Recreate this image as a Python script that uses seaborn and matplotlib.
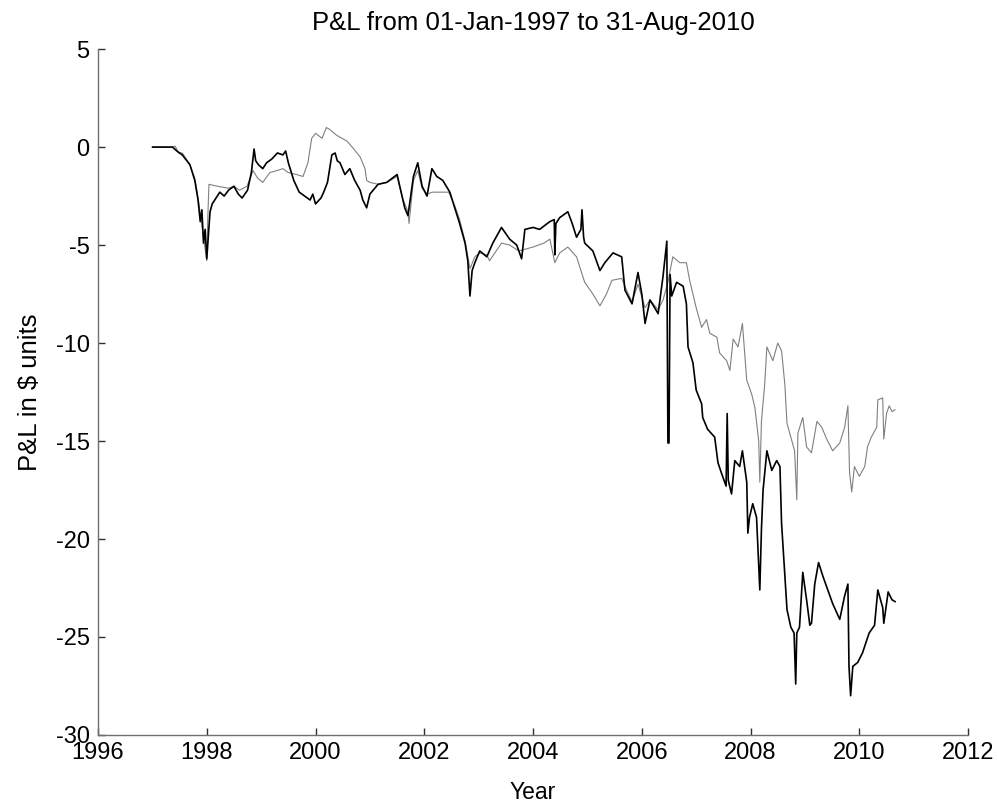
import numpy as np
import pandas as pd
import matplotlib
matplotlib.use("Agg")
import matplotlib.pyplot as plt
import seaborn as sns

# ---- data (decimal years, P&L in $ units) ----
black_dates = [1997.00, 1997.37, 1997.45, 1997.55, 1997.69, 1997.78, 1997.84, 1997.88, 1997.91, 1997.94,
               1997.97, 1998.00, 1998.03, 1998.06, 1998.10, 1998.17, 1998.24, 1998.32, 1998.40, 1998.50,
               1998.58, 1998.65, 1998.75, 1998.82, 1998.87, 1998.90, 1998.95, 1999.03, 1999.10, 1999.20,
               1999.30, 1999.40, 1999.45, 1999.50, 1999.60, 1999.70, 1999.80, 1999.90, 1999.95, 2000.00,
               2000.10, 2000.15, 2000.22, 2000.30, 2000.36, 2000.40, 2000.45, 2000.54, 2000.63, 2000.72,
               2000.82, 2000.87, 2000.94, 2001.00, 2001.15, 2001.31, 2001.50, 2001.55, 2001.64, 2001.70,
               2001.80, 2001.88, 2001.96, 2002.05, 2002.14, 2002.23, 2002.34, 2002.47, 2002.56, 2002.65,
               2002.75, 2002.80, 2002.84, 2002.88, 2002.93, 2003.02, 2003.15, 2003.26, 2003.42, 2003.57,
               2003.70, 2003.79, 2003.85, 2004.00, 2004.12, 2004.31, 2004.39, 2004.40, 2004.42, 2004.49,
               2004.64, 2004.72, 2004.80, 2004.88, 2004.90, 2004.93, 2004.95, 2005.10, 2005.23, 2005.32,
               2005.47, 2005.63, 2005.69, 2005.82, 2005.93, 2006.00, 2006.06, 2006.15, 2006.30, 2006.39,
               2006.46, 2006.48, 2006.50, 2006.52, 2006.55, 2006.64, 2006.76, 2006.82, 2006.85, 2006.94,
               2007.00, 2007.10, 2007.12, 2007.21, 2007.34, 2007.40, 2007.46, 2007.55, 2007.57, 2007.59,
               2007.65, 2007.71, 2007.80, 2007.85, 2007.93, 2007.95, 2007.98, 2008.04, 2008.11, 2008.17,
               2008.20, 2008.23, 2008.30, 2008.39, 2008.48, 2008.54, 2008.57, 2008.63, 2008.67, 2008.74,
               2008.80, 2008.83, 2008.85, 2008.90, 2008.96, 2009.03, 2009.09, 2009.12, 2009.18, 2009.25,
               2009.33, 2009.42, 2009.51, 2009.64, 2009.73, 2009.79, 2009.81, 2009.84, 2009.88, 2009.97,
               2010.06, 2010.18, 2010.28, 2010.34, 2010.43, 2010.45, 2010.53, 2010.60, 2010.66]
black_pnl = [0.0, 0.0, -0.2, -0.4, -0.9, -1.7, -2.7, -3.8, -3.2, -4.9,
             -4.2, -5.7, -4.5, -3.3, -2.9, -2.6, -2.3, -2.5, -2.2, -2.0,
             -2.4, -2.6, -2.2, -1.3, -0.1, -0.7, -0.9, -1.1, -0.8, -0.6,
             -0.3, -0.4, -0.2, -0.8, -1.7, -2.3, -2.5, -2.7, -2.4, -2.9,
             -2.6, -2.3, -1.8, -0.4, -0.3, -0.7, -0.8, -1.4, -1.1, -1.7,
             -2.2, -2.7, -3.1, -2.4, -1.9, -1.8, -1.4, -2.0, -3.1, -3.5,
             -1.5, -0.8, -2.0, -2.5, -1.1, -1.5, -1.7, -2.3, -3.1, -3.9,
             -4.9, -5.8, -7.6, -6.3, -5.9, -5.3, -5.6, -4.9, -4.1, -4.7,
             -5.0, -5.7, -4.2, -4.1, -4.2, -3.8, -3.7, -5.5, -3.9, -3.6,
             -3.3, -3.9, -4.6, -4.2, -3.2, -4.6, -4.9, -5.3, -6.3, -5.9,
             -5.4, -5.6, -7.3, -8.0, -6.4, -7.5, -9.0, -7.8, -8.5, -6.6,
             -4.8, -15.1, -15.1, -6.5, -7.6, -6.9, -7.1, -8.0, -10.2, -11.0,
             -12.4, -13.1, -13.8, -14.4, -14.8, -16.1, -16.6, -17.3, -13.6, -17.0,
             -17.7, -16.0, -16.3, -15.5, -17.1, -19.7, -18.9, -18.2, -18.9, -22.6,
             -19.5, -17.5, -15.5, -16.5, -16.0, -16.3, -19.2, -21.8, -23.6, -24.5,
             -24.8, -27.4, -24.8, -24.5, -21.7, -23.1, -24.4, -24.3, -22.3, -21.2,
             -21.9, -22.6, -23.3, -24.1, -22.9, -22.3, -26.5, -28.0, -26.5, -26.3,
             -25.8, -24.8, -24.4, -22.6, -23.5, -24.3, -22.7, -23.1, -23.2]

gray_dates = [1997.00, 1997.37, 1997.42, 1997.48, 1997.55, 1997.69, 1997.78, 1997.84, 1997.90, 1997.94,
              1998.00, 1998.02, 1998.04, 1998.20, 1998.40, 1998.50, 1998.60, 1998.74, 1998.85, 1998.94,
              1999.03, 1999.16, 1999.29, 1999.40, 1999.50, 1999.65, 1999.77, 1999.86, 1999.93, 2000.00,
              2000.12, 2000.20, 2000.26, 2000.39, 2000.58, 2000.69, 2000.82, 2000.91, 2000.94, 2001.00,
              2001.15, 2001.31, 2001.50, 2001.60, 2001.70, 2001.72, 2001.80, 2001.88, 2001.96, 2002.05,
              2002.15, 2002.30, 2002.45, 2002.56, 2002.65, 2002.75, 2002.84, 2002.93, 2003.02, 2003.15,
              2003.20, 2003.42, 2003.57, 2003.74, 2004.00, 2004.20, 2004.31, 2004.40, 2004.49, 2004.64,
              2004.80, 2004.95, 2005.10, 2005.23, 2005.35, 2005.45, 2005.63, 2005.72, 2005.82, 2005.93,
              2006.06, 2006.15, 2006.30, 2006.39, 2006.48, 2006.57, 2006.70, 2006.82, 2006.88, 2007.00,
              2007.10, 2007.19, 2007.25, 2007.38, 2007.43, 2007.56, 2007.62, 2007.68, 2007.77, 2007.85,
              2007.93, 2008.02, 2008.08, 2008.15, 2008.17, 2008.20, 2008.26, 2008.30, 2008.41, 2008.50,
              2008.57, 2008.63, 2008.67, 2008.72, 2008.81, 2008.85, 2008.87, 2008.96, 2009.03, 2009.12,
              2009.22, 2009.31, 2009.40, 2009.51, 2009.64, 2009.73, 2009.79, 2009.82, 2009.86, 2009.91,
              2010.00, 2010.10, 2010.15, 2010.22, 2010.32, 2010.34, 2010.43, 2010.45, 2010.50, 2010.55,
              2010.60, 2010.66]
gray_pnl = [0.0, 0.0, 0.05, -0.3, -0.3, -0.9, -1.6, -2.6, -3.8, -4.6,
            -5.8, -3.5, -1.9, -2.0, -2.1, -2.0, -2.2, -2.0, -1.2, -1.6,
            -1.8, -1.3, -1.2, -1.1, -1.3, -1.4, -1.5, -0.8, 0.45, 0.7,
            0.45, 1.0, 0.9, 0.6, 0.3, -0.05, -0.5, -1.1, -1.7, -1.8,
            -1.9, -1.8, -1.5, -2.6, -3.3, -3.9, -1.7, -1.2, -2.1, -2.4,
            -2.3, -2.3, -2.3, -3.0, -3.7, -4.8, -6.2, -5.6, -5.4, -5.5,
            -5.8, -4.9, -5.0, -5.3, -5.1, -4.9, -4.7, -5.9, -5.4, -5.1,
            -5.6, -6.9, -7.5, -8.1, -7.5, -6.8, -6.7, -7.3, -7.9, -7.0,
            -8.2, -7.8, -8.3, -7.8, -6.9, -5.6, -5.9, -5.9, -6.8, -8.2,
            -9.2, -8.8, -9.5, -9.7, -10.5, -10.9, -11.4, -9.8, -10.2, -9.0,
            -11.9, -12.6, -13.3, -15.0, -17.1, -14.0, -12.1, -10.2, -10.9, -10.0,
            -10.4, -12.1, -14.1, -14.6, -15.5, -18.0, -14.6, -13.8, -15.3, -15.6,
            -14.0, -14.3, -14.9, -15.5, -15.1, -14.3, -13.2, -16.6, -17.6, -16.3,
            -16.8, -16.3, -15.3, -14.8, -14.3, -12.9, -12.8, -14.9, -13.6, -13.2,
            -13.5, -13.4]

x_ticks = [1996, 1998, 2000, 2002, 2004, 2006, 2008, 2010, 2012]
y_ticks = [-30, -25, -20, -15, -10, -5, 0, 5]

df_black = pd.DataFrame({"Year": black_dates, "PnL": black_pnl})
df_gray = pd.DataFrame({"Year": gray_dates, "PnL": gray_pnl})

sns.set_style("white")
plt.rcParams["font.family"] = ["Liberation Sans", "DejaVu Sans"]
plt.rcParams["text.color"] = "black"
plt.rcParams["axes.labelcolor"] = "black"
plt.rcParams["xtick.color"] = "black"
plt.rcParams["ytick.color"] = "black"

fig = plt.figure(figsize=(9.97, 8.05), dpi=100)
ax = fig.add_axes([0.0983, 0.087, 0.8727, 0.852])

sns.lineplot(data=df_gray, x="Year", y="PnL", ax=ax, color="#808080", linewidth=0.8,
             sort=False, estimator=None)
sns.lineplot(data=df_black, x="Year", y="PnL", ax=ax, color="black", linewidth=1.2,
             sort=False, estimator=None)

ax.set_xlim(1996, 2012)
ax.set_ylim(-30, 5)
ax.set_xticks(x_ticks)
ax.set_yticks(y_ticks)
ax.set_xticklabels([str(t) for t in x_ticks])
ax.set_yticklabels([str(t) for t in y_ticks])

for s in ["top", "right"]:
    ax.spines[s].set_visible(False)
for s in ["left", "bottom"]:
    ax.spines[s].set_color("#707070")
    ax.spines[s].set_linewidth(1.0)

ax.tick_params(axis="both", direction="in", length=5, width=1.0, color="#303030",
               labelsize=17, left=True, bottom=True)
ax.tick_params(axis="x", pad=5)
ax.tick_params(axis="y", pad=6)

ax.set_xlabel("Year", fontsize=16.5, labelpad=12)
ax.set_ylabel("P&L in $ units", fontsize=18.5, labelpad=10)
ax.set_title("P&L from 01-Jan-1997 to 31-Aug-2010", fontsize=18.5, pad=14)

fig.savefig("out.png", dpi=100, facecolor="white")
